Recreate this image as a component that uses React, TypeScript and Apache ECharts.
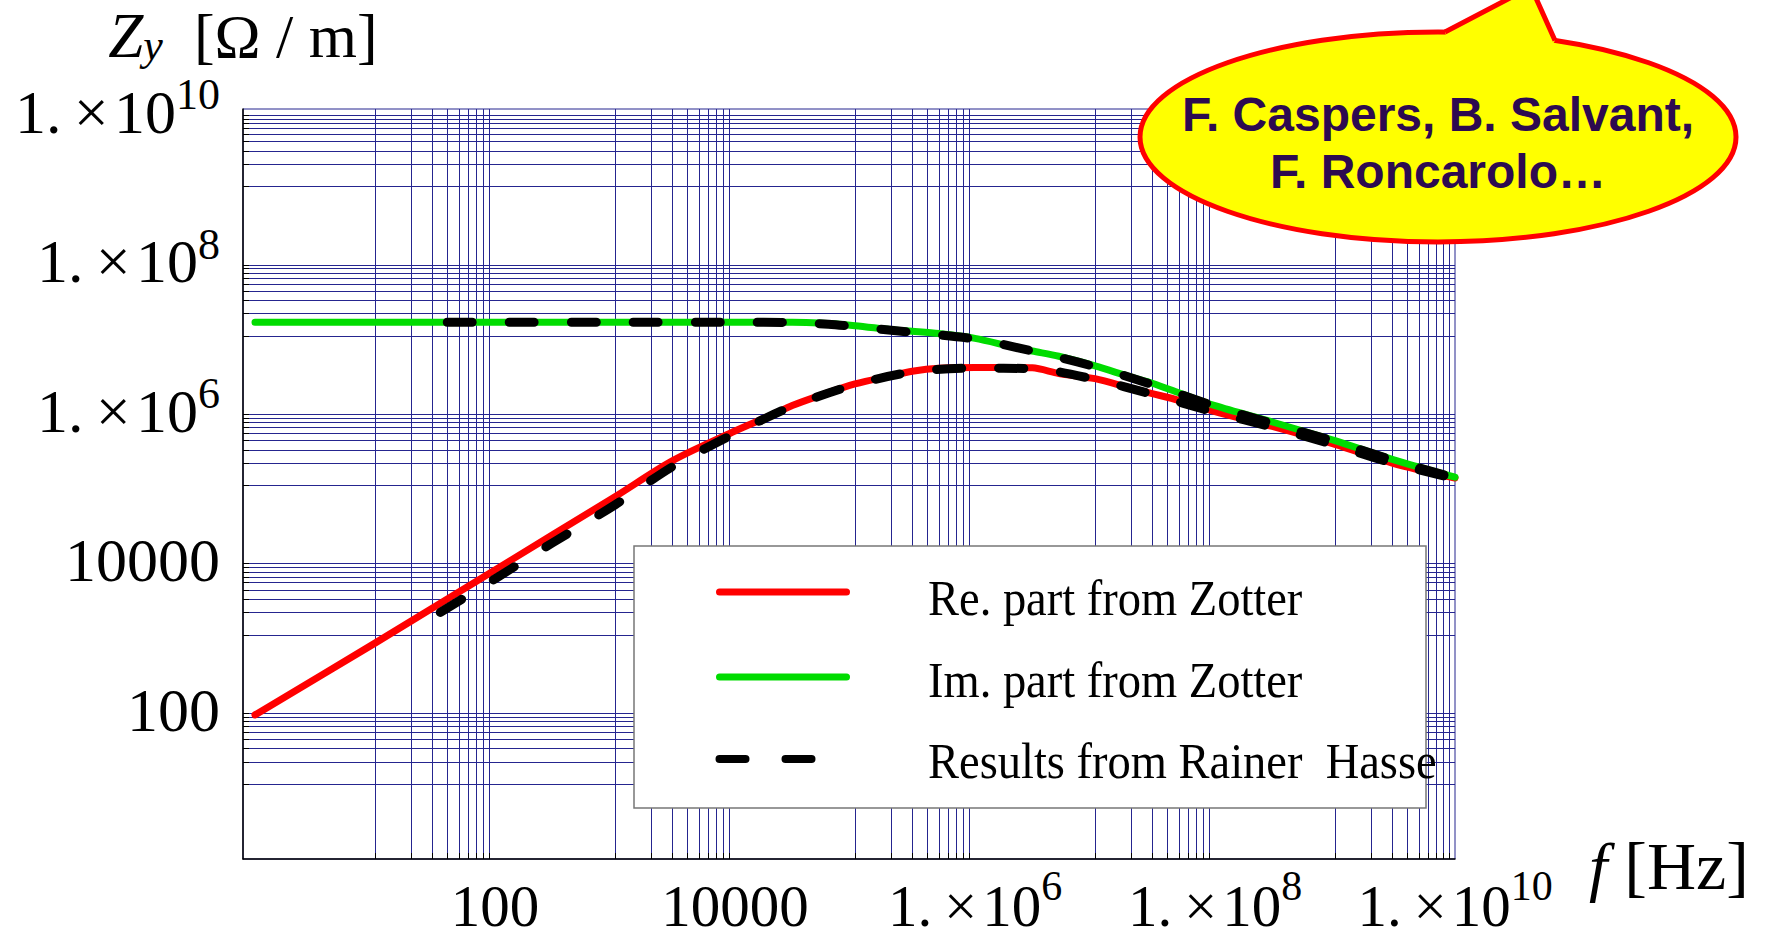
import React, { useEffect, useRef } from 'react';
import * as echarts from 'echarts';

// ---- data (frequency in Hz, transverse impedance in Ω/m) ----
const zotterFreqHz = [
  1, 10, 100, 1e3, 3e3, 1e4, 2e4, 3e4, 5e4, 1e5, 2e5, 3e5, 5e5,
  1e6, 2e6, 3e6, 5e6, 1e7, 2e7, 3e7, 5e7, 1e8, 3e8, 1e9, 3e9, 1e10,
];
const zotterRe = [
  85, 776, 7410, 70800, 2.14e5, 5.37e5, 8.71e5, 1.175e6, 1.585e6, 2.29e6, 2.95e6, 3.39e6, 3.72e6,
  3.8e6, 3.8e6, 3.76e6, 3.16e6, 2.69e6, 2.0e6, 1.7e6, 1.38e6, 9.77e5, 6.17e5, 3.55e5, 2.0e5, 1.26e5,
];
const zotterIm = [
  1.53e7, 1.53e7, 1.53e7, 1.53e7, 1.53e7, 1.53e7, 1.53e7, 1.53e7, 1.5e7, 1.38e7, 1.22e7, 1.16e7, 1.08e7,
  9.33e6, 7.24e6, 6.31e6, 5.37e6, 3.98e6, 2.82e6, 2.34e6, 1.74e6, 1.17e6, 7.08e5, 3.98e5, 2.24e5, 1.29e5,
];

const hasseReFreqHz = [35, 100, 300, 1e3, 3e3, 1e4, 3e4, 1e5, 3e5, 1e6, 3e6, 1e7, 3e7, 1e8, 3e8, 1e9, 3e9, 9e9];
const hasseRe = [
  2.0e3, 5.62e3, 1.7e4, 5.5e4, 1.78e5, 5.01e5, 1.15e6, 2.24e6, 3.31e6, 3.72e6, 3.67e6, 2.63e6,
  1.66e6, 9.55e5, 6.03e5, 3.47e5, 2.0e5, 1.29e5,
];
const hasseImFreqHz = [40, 100, 1e3, 1e4, 3e4, 6e4, 1e5, 3e5, 1e6, 3e6, 1e7, 3e7, 1e8, 3e8, 1e9, 3e9, 9e9];
const hasseIm = [
  1.53e7, 1.53e7, 1.53e7, 1.53e7, 1.52e7, 1.44e7, 1.34e7, 1.12e7, 9.12e6, 6.31e6, 3.89e6, 2.24e6,
  1.15e6, 6.76e5, 3.89e5, 2.19e5, 1.32e5,
];

// labelled decades (powers of ten) and the decades that carry a full set of grid lines
const labelExponents = [2, 4, 6, 8, 10];
const gridDecades = [1, 3, 5, 7, 9];
const gridMultipliers = [1, 2, 3, 4, 5, 6, 7, 8, 9];

const legendLabels = ['Re. part from Zotter', 'Im. part from Zotter', 'Results from Rainer  Hasse'];
const calloutLines = ['F. Caspers, B. Salvant,', 'F. Roncarolo…'];

// ---- styling ----
const SERIF = '"Liberation Serif", "Times New Roman", serif';
const SANS = '"Liberation Sans", Arial, sans-serif';
const GRID_COLOR = '#25258f';
const RED = '#ff0000';
const GREEN = '#00dc00';

const X_MIN_EXP = -0.1;
const X_MAX_EXP = 10;
const Y_MIN_EXP = 0;
const Y_MAX_EXP = 10.04;

const gridExponents = gridDecades.flatMap((k) => gridMultipliers.map((j) => k + Math.log10(j)));

const pairs = (xs: number[], ys: number[]) => xs.map((x, i) => [x, ys[i]]);

const tickLabel = (v: number) => {
  const e = Math.round(v);
  if (e < 6) return `{m|${Math.pow(10, e).toFixed(0)}}`;
  return `{m|1.\u2009×\u200a10}{s|${e}}`;
};

// superscript token: a short box pinned to the top of the 56px line, so its glyph
// centre sits (28 - supBox / 2) px above the centre of the main digits
const richFor = (mainSize: number, supSize: number, supBox: number) => ({
  m: { fontFamily: SERIF, fontSize: mainSize, lineHeight: 56, color: '#000', verticalAlign: 'middle' },
  s: {
    fontFamily: SERIF,
    fontSize: supSize,
    height: supBox,
    lineHeight: supBox,
    color: '#000',
    verticalAlign: 'top',
  },
});

function buildOption() {
  const valueAxisCommon = {
    type: 'value',
    axisLine: { show: true, onZero: false, lineStyle: { color: '#000', width: 1.5 } },
    axisTick: {
      show: true,
      inside: true,
      length: 6,
      customValues: gridExponents,
      lineStyle: { color: '#000', width: 1 },
    },
    splitLine: { show: true, lineStyle: { color: GRID_COLOR, width: 1 } },
  };

  const lineSeries = (name: string, data: number[][], color: string, width: number, z: number, dash?: number[]) => ({
    name,
    type: 'line',
    xAxisIndex: 0,
    yAxisIndex: 0,
    data,
    symbol: 'none',
    showSymbol: false,
    smooth: 0.3,
    z,
    lineStyle: { color, width, cap: 'round', join: 'round', type: dash ?? 'solid' },
  });

  const legendRowY = [592, 677, 759];
  const legendTextY = [598, 680, 761];

  return {
    animation: false,
    backgroundColor: '#ffffff',
    grid: {
      left: 243,
      top: 109,
      right: 311,
      bottom: 80,
      show: true,
      borderColor: GRID_COLOR,
      borderWidth: 1,
      containLabel: false,
      outerBoundsMode: 'none',
    },
    xAxis: [
      { type: 'log', min: Math.pow(10, X_MIN_EXP), max: Math.pow(10, X_MAX_EXP), show: false },
      {
        ...valueAxisCommon,
        position: 'bottom',
        min: X_MIN_EXP,
        max: X_MAX_EXP,
        axisLabel: {
          customValues: labelExponents,
          formatter: tickLabel,
          rich: richFor(59, 42, 16),
          margin: 19,
        },
        name: '{i|f}{t| [Hz]}',
        nameLocation: 'end',
        nameGap: 134,
        nameTextStyle: {
          padding: [14, 0, 0, 0],
          rich: {
            i: { fontFamily: SERIF, fontStyle: 'italic', fontSize: 66, lineHeight: 64, color: '#000' },
            t: { fontFamily: SERIF, fontSize: 68, lineHeight: 64, color: '#000' },
          },
        },
      },
    ],
    yAxis: [
      { type: 'log', min: Math.pow(10, Y_MIN_EXP), max: Math.pow(10, Y_MAX_EXP), show: false },
      {
        ...valueAxisCommon,
        position: 'left',
        min: Y_MIN_EXP,
        max: Y_MAX_EXP,
        axisLabel: {
          customValues: labelExponents,
          formatter: tickLabel,
          rich: richFor(62, 44, 22),
          margin: 23,
        },
        name: '{i|Z}{sub|y}{t|  [Ω / m]}',
        nameLocation: 'end',
        nameGap: 41.5,
        nameTextStyle: {
          rich: {
            i: { fontFamily: SERIF, fontStyle: 'italic', fontSize: 63, lineHeight: 64, color: '#000' },
            sub: {
              fontFamily: SERIF,
              fontStyle: 'italic',
              fontSize: 44,
              height: 45,
              lineHeight: 45,
              verticalAlign: 'bottom',
              color: '#000',
            },
            t: { fontFamily: SERIF, fontSize: 62, lineHeight: 64, color: '#000' },
          },
        },
      },
    ],
    series: [
      lineSeries(legendLabels[0], pairs(zotterFreqHz, zotterRe), RED, 7, 3),
      lineSeries(legendLabels[1], pairs(zotterFreqHz, zotterIm), GREEN, 7, 4),
      lineSeries(legendLabels[2], pairs(hasseReFreqHz, hasseRe), '#000', 9, 5, [25, 37]),
      lineSeries(legendLabels[2], pairs(hasseImFreqHz, hasseIm), '#000', 9, 5, [25, 37]),
    ],
    graphic: [
      // legend box
      {
        type: 'rect',
        z: 100,
        shape: { x: 634, y: 546, width: 792, height: 262 },
        style: { fill: '#ffffff', stroke: '#777777', lineWidth: 1.5 },
      },
      {
        type: 'line',
        z: 101,
        shape: { x1: 719.5, y1: legendRowY[0], x2: 846.5, y2: legendRowY[0] },
        style: { stroke: RED, lineWidth: 7, lineCap: 'round' },
      },
      {
        type: 'line',
        z: 101,
        shape: { x1: 719.5, y1: legendRowY[1], x2: 846.5, y2: legendRowY[1] },
        style: { stroke: GREEN, lineWidth: 7, lineCap: 'round' },
      },
      {
        type: 'line',
        z: 101,
        shape: { x1: 719.5, y1: legendRowY[2], x2: 811.5, y2: legendRowY[2] },
        style: { stroke: '#000', lineWidth: 8, lineCap: 'round', lineDash: [26, 40] },
      },
      ...legendLabels.map((text, i) => ({
        type: 'text',
        z: 101,
        x: 928,
        y: legendTextY[i],
        scaleX: 0.93,
        style: {
          text,
          font: `50px ${SERIF}`,
          fill: '#000',
          textAlign: 'left',
          verticalAlign: 'middle',
        },
      })),
      // speech-bubble credit
      {
        type: 'ellipse',
        z: 110,
        shape: { cx: 1438, cy: 137, rx: 298, ry: 105 },
        style: { fill: '#ffff00', stroke: RED, lineWidth: 5 },
      },
      {
        type: 'polygon',
        z: 111,
        shape: { points: [[1445, 32], [1531, -13], [1555, 40.5], [1548, 52], [1450, 48]] },
        style: { fill: '#ffff00', stroke: null },
      },
      {
        type: 'polyline',
        z: 112,
        shape: { points: [[1445, 32], [1531, -13], [1555, 40.5]] },
        style: { stroke: RED, lineWidth: 5, fill: null, lineJoin: 'miter' },
      },
      ...calloutLines.map((text, i) => ({
        type: 'text',
        z: 113,
        x: 1438,
        y: [114, 171][i],
        style: {
          text,
          font: `bold 48px ${SANS}`,
          fill: '#2d0a50',
          textAlign: 'center',
          verticalAlign: 'middle',
        },
      })),
    ],
  };
}

export default function App() {
  const ref = useRef<HTMLDivElement>(null);
  useEffect(() => {
    if (!ref.current) return;
    const chart = echarts.init(ref.current, null, { renderer: 'svg' });
    chart.setOption(buildOption() as any);
    return () => chart.dispose();
  }, []);
  return (
    <div
      ref={ref}
      style={{ position: 'fixed', left: 0, top: 0, width: 1766, height: 939, background: '#fff' }}
    />
  );
}
